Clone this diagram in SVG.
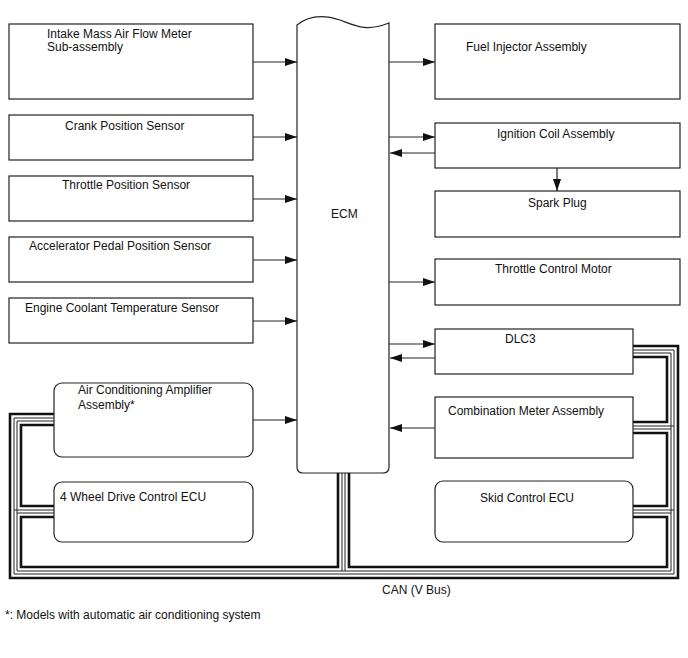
<svg xmlns="http://www.w3.org/2000/svg" width="688" height="658" viewBox="0 0 688 658">
<style>
.box{fill:#fff;stroke:#222;stroke-width:1.2}
.t{font-family:"Liberation Sans",Arial,sans-serif;font-size:12px;fill:#111}
.a{fill:none;stroke:#222;stroke-width:1.2;marker-end:url(#ah)}
.bk{fill:none;stroke:#111;stroke-width:2.6}
.bn{fill:none;stroke:#222;stroke-width:1}
</style>
<defs>
<marker id="ah" markerUnits="userSpaceOnUse" markerWidth="12" markerHeight="8" refX="12" refY="4" orient="auto">
<path d="M0,0 L12,4 L0,8 z" fill="#111"/>
</marker>
</defs>
<rect width="688" height="658" fill="#fff"/>

<g id="can-bus">
<path class="bk" d="M54,414 H10 V578 H678 V346 H633"/>
<path class="bn" d="M54,418 H14 V574 H674 V350 H633"/>
<path class="bn" d="M54,421 H17 V571 H671 V353 H633"/>
<path class="bk" d="M54,425 H21 V506 H54"/>
<path class="bk" d="M54,517 H21 V567 H338 V473"/>
<path class="bk" d="M349,473 V567 H667 V517 H633"/>
<path class="bk" d="M633,506 H667 V433 H633"/>
<path class="bk" d="M633,422 H667 V357 H633"/>
<path class="bn" d="M54,510 H14 M54,513 H17 M633,426 H674 M633,429 H671 M633,510 H674 M633,513 H671 M342,473 V571 M345,473 V571"/>
</g>

<g id="n-ecm">
<path class="box" d="M297,25 C308,16 322,14 340,20 C356,26 366,32 389,23 V467 Q389,473 383,473 H303 Q297,473 297,467 Z"/>
<text class="t" x="331" y="218">ECM</text>
</g>

<g id="n-maf"><rect class="box" x="9" y="24" width="244" height="75"/>
<text class="t" x="47" y="38">Intake Mass Air Flow Meter</text><text class="t" x="47" y="51">Sub-assembly</text></g>
<g id="n-crank"><rect class="box" x="9" y="115" width="244" height="45"/><text class="t" x="65" y="130">Crank Position Sensor</text></g>
<g id="n-tps"><rect class="box" x="9" y="176" width="244" height="45"/><text class="t" x="62" y="189">Throttle Position Sensor</text></g>
<g id="n-app"><rect class="box" x="9" y="237" width="244" height="45"/><text class="t" x="29" y="250">Accelerator Pedal Position Sensor</text></g>
<g id="n-ect"><rect class="box" x="9" y="298" width="244" height="45"/><text class="t" x="25" y="312">Engine Coolant Temperature Sensor</text></g>
<g id="n-ac"><rect class="box" x="54" y="383" width="199" height="74" rx="8"/>
<text class="t" x="78" y="394">Air Conditioning Amplifier</text><text class="t" x="78" y="409">Assembly*</text></g>
<g id="n-4wd"><rect class="box" x="54" y="482" width="199" height="60" rx="8"/><text class="t" x="60" y="501">4 Wheel Drive Control ECU</text></g>

<g id="n-inj"><rect class="box" x="435" y="24" width="245" height="75"/><text class="t" x="466" y="51">Fuel Injector Assembly</text></g>
<g id="n-ign"><rect class="box" x="435" y="123" width="245" height="45"/><text class="t" x="497" y="138">Ignition Coil Assembly</text></g>
<g id="n-spark"><rect class="box" x="435" y="191" width="245" height="46"/><text class="t" x="528" y="207">Spark Plug</text></g>
<g id="n-tcm"><rect class="box" x="435" y="259" width="245" height="46"/><text class="t" x="495" y="273">Throttle Control Motor</text></g>
<g id="n-dlc3"><rect class="box" x="435" y="329" width="198" height="45"/><text class="t" x="505" y="343">DLC3</text></g>
<g id="n-meter"><rect class="box" x="435" y="397" width="198" height="61"/><text class="t" x="448" y="415">Combination Meter Assembly</text></g>
<g id="n-skid"><rect class="box" x="435" y="481" width="198" height="61" rx="8"/><text class="t" x="480" y="502">Skid Control ECU</text></g>

<g id="connectors">
<path class="a" d="M253,62 H297"/>
<path class="a" d="M253,137 H297"/>
<path class="a" d="M253,199 H297"/>
<path class="a" d="M253,260 H297"/>
<path class="a" d="M253,321 H297"/>
<path class="a" d="M253,420 H297"/>
<path class="a" d="M389,62 H435"/>
<path class="a" d="M389,137 H435"/>
<path class="a" d="M435,153 H390"/>
<path class="a" d="M557,168 V191"/>
<path class="a" d="M389,282 H435"/>
<path class="a" d="M389,344 H435"/>
<path class="a" d="M435,358 H390"/>
<path class="a" d="M435,428 H390"/>
</g>

<text class="t" x="382" y="594">CAN (V Bus)</text>
<text class="t" x="5" y="619">*: Models with automatic air conditioning system</text>
</svg>
